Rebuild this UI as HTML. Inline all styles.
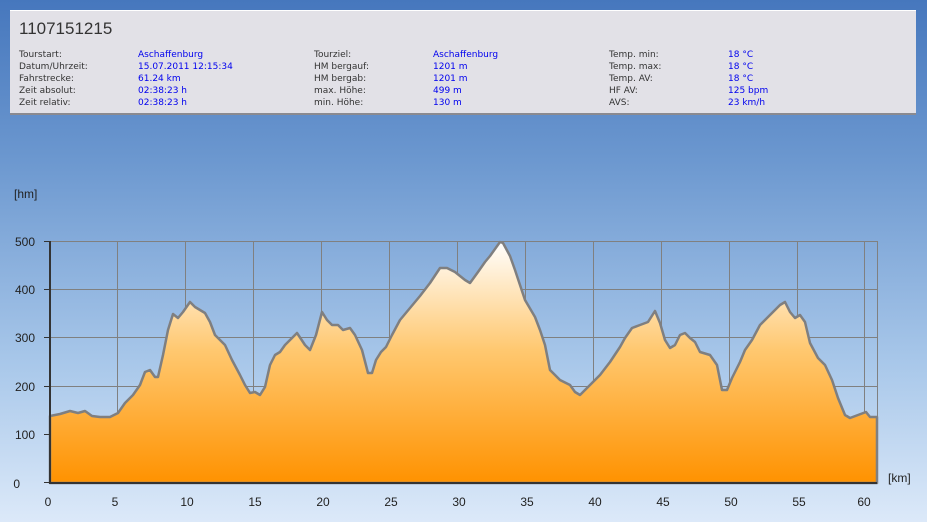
<!DOCTYPE html>
<html><head><meta charset="utf-8"><style>
body{margin:0;width:927px;height:522px;overflow:hidden;background:linear-gradient(#4677bd 0%,#6b97cf 30%,#a9c8ea 70%,#dce9f9 100%);font-family:"DejaVu Sans","Liberation Sans",sans-serif;}
#p{position:absolute;left:10px;top:10px;width:906px;height:102px;background:#e2e1e7;border-top:1px solid #fff;border-bottom:2px solid #8a8a90;}
#t{position:absolute;left:9px;top:8px;font-size:17px;color:#333;font-family:"Liberation Sans",sans-serif;}
.c{position:absolute;top:38px;font-size:9px;line-height:12px;color:#333;white-space:pre}
.v{color:#0000ee}
</style></head><body>
<div id="p"><div id="t">1107151215</div>
<div class="c" style="left:9px">Tourstart:
Datum/Uhrzeit:
Fahrstrecke:
Zeit absolut:
Zeit relativ:</div>
<div class="c v" style="left:128px">Aschaffenburg
15.07.2011 12:15:34
61.24 km
02:38:23 h
02:38:23 h</div>
<div class="c" style="left:304px">Tourziel:
HM bergauf:
HM bergab:
max. Höhe:
min. Höhe:</div>
<div class="c v" style="left:423px">Aschaffenburg
1201 m
1201 m
499 m
130 m</div>
<div class="c" style="left:599px">Temp. min:
Temp. max:
Temp. AV:
HF AV:
AVS:</div>
<div class="c v" style="left:718px">18 °C
18 °C
18 °C
125 bpm
23 km/h</div>
</div>
<svg width="927" height="522" style="position:absolute;left:0;top:0" font-family="Liberation Sans, sans-serif" font-size="12" fill="#222">
<defs><linearGradient id="g" x1="0" y1="241" x2="0" y2="483" gradientUnits="userSpaceOnUse"><stop offset="0" stop-color="#ffffff"/><stop offset="0.45" stop-color="#ffc870"/><stop offset="1" stop-color="#ff9200"/></linearGradient></defs>
<g stroke="#808080" stroke-width="1">
<line x1="50" y1="241.5" x2="877" y2="241.5"/><line x1="50" y1="289.5" x2="877" y2="289.5"/><line x1="50" y1="337.5" x2="877" y2="337.5"/><line x1="50" y1="386.5" x2="877" y2="386.5"/><line x1="50" y1="434.5" x2="877" y2="434.5"/>
<line x1="117.5" y1="241" x2="117.5" y2="483"/><line x1="185.5" y1="241" x2="185.5" y2="483"/><line x1="253.5" y1="241" x2="253.5" y2="483"/><line x1="321.5" y1="241" x2="321.5" y2="483"/><line x1="389.5" y1="241" x2="389.5" y2="483"/><line x1="457.5" y1="241" x2="457.5" y2="483"/><line x1="525.5" y1="241" x2="525.5" y2="483"/><line x1="593.5" y1="241" x2="593.5" y2="483"/><line x1="661.5" y1="241" x2="661.5" y2="483"/><line x1="729.5" y1="241" x2="729.5" y2="483"/><line x1="797.5" y1="241" x2="797.5" y2="483"/><line x1="864.5" y1="241" x2="864.5" y2="483"/><line x1="877.5" y1="241" x2="877.5" y2="483"/>
</g>
<path fill="url(#g)" stroke="#7f7f80" stroke-width="2.5" stroke-linejoin="round" d="M50,416 L60,414 70,411 78,413 85,411 92,416 100,417 110,417 118,413 125,403 133,395 140,385 145,372 150,370 155,377 158,377 163,355 168,330 173,314 178,318 183,312 190,302 195,307 205,313 210,322 215,335 225,345 232,360 240,375 245,385 250,393 255,392 260,395 265,387 270,365 275,355 280,352 285,345 290,340 297,333 305,345 310,350 316,335 322,312 327,320 332,325 338,325 343,330 350,328 355,335 362,350 368,373 372,373 376,360 381,352 386,347 392,335 400,320 410,308 420,296 430,283 440,268 447,268 455,272 465,280 470,283 478,272 485,262 490,256 500,242 503,243 510,256 515,270 520,285 525,300 535,317 540,330 545,345 550,370 555,375 560,380 570,385 575,392 580,395 590,385 600,375 610,362 620,347 625,338 632,328 640,325 648,322 655,311 660,323 665,340 670,348 675,345 680,335 685,333 690,338 695,342 700,352 710,355 717,365 722,390 727,390 732,378 740,362 745,350 752,340 760,325 770,315 780,305 785,302 790,312 795,318 800,315 805,322 810,343 818,358 825,365 832,380 838,398 845,415 850,418 858,415 866,412 870,417 877,417 L877,483 L50,483 Z"/>
<g stroke="#333" stroke-width="2"><line x1="50" y1="241" x2="50" y2="484"/><line x1="49" y1="483" x2="877" y2="483"/></g>
<g stroke="#333" stroke-width="1"><line x1="44" y1="241.5" x2="50" y2="241.5"/><line x1="44" y1="289.5" x2="50" y2="289.5"/><line x1="44" y1="337.5" x2="50" y2="337.5"/><line x1="44" y1="386.5" x2="50" y2="386.5"/><line x1="44" y1="434.5" x2="50" y2="434.5"/><line x1="44" y1="482.5" x2="50" y2="482.5"/></g>
<g text-anchor="end"><text x="35" y="246">500</text><text x="35" y="294">400</text><text x="35" y="342">300</text><text x="35" y="391">200</text><text x="35" y="439">100</text><text x="20" y="488">0</text></g>
<text x="14" y="198">[hm]</text><text x="888" y="482">[km]</text>
<g text-anchor="middle"><text x="48" y="506">0</text><text x="115" y="506">5</text><text x="187" y="506">10</text><text x="255" y="506">15</text><text x="323" y="506">20</text><text x="391" y="506">25</text><text x="459" y="506">30</text><text x="527" y="506">35</text><text x="595" y="506">40</text><text x="663" y="506">45</text><text x="731" y="506">50</text><text x="799" y="506">55</text><text x="864" y="506">60</text></g>
</svg>
</body></html>
